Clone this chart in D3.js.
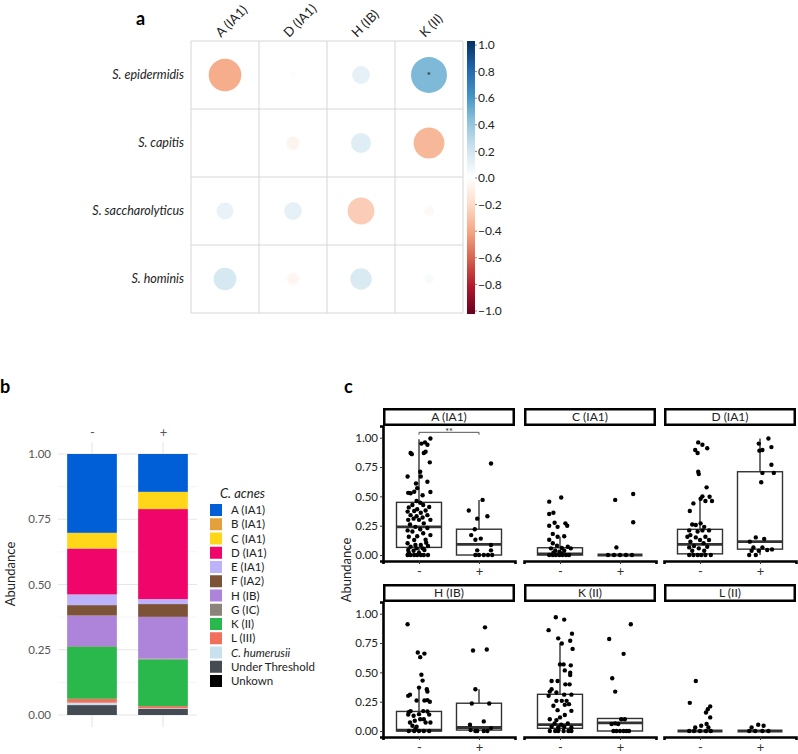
<!DOCTYPE html>
<html><head><meta charset="utf-8">
<script src="https://cdn.jsdelivr.net/npm/d3@7"></script>
<style>body{margin:0;background:#fff;} svg{display:block;font-family:Lato,"DejaVu Sans",sans-serif;}</style>
</head><body><svg id="chart" width="798" height="754"></svg>
<script>
// ---------- DATA ----------
// Panel a: correlations
const corrRows = ["S. epidermidis","S. capitis","S. saccharolyticus","S. hominis"];
const corrCols = ["A (IA1)","D (IA1)","H (IB)","K (II)"];
const corrValues = [
  [-0.37, 0.015, 0.11, 0.45],
  [0.006, -0.06, 0.14, -0.33],
  [0.10, 0.11, -0.25, -0.035],
  [0.18, -0.05, 0.16, 0.03]
];
const corrSig = [["","","","*"],["","","",""],["","","",""],["","","",""]];
const colorbarTicks = [1.0,0.8,0.6,0.4,0.2,0.0,-0.2,-0.4,-0.6,-0.8,-1.0];

// Panel b: stacked composition
const compGroups = ["-","+"];
const strainNames = ["A (IA1)","B (IA1)","C (IA1)","D (IA1)","E (IA1)","F (IA2)","H (IB)","G (IC)","K (II)","L (III)","C. humerusii","Under Threshold","Unkown"];
const strainColors = ["#005fd7","#e3a03d","#ffd718","#f0066b","#bdb3fb","#7c5337","#ae83da","#8c837a","#2ab84c","#f26f5c","#c9e1ef","#454b53","#000000"];
const compNeg = [0.302,0,0.060,0.176,0.041,0.040,0.117,0.003,0.199,0.015,0.009,0.038,0];
const compPos = [0.145,0,0.066,0.345,0.019,0.049,0.160,0.003,0.179,0.008,0.002,0.024,0];
const compTicks = [0,0.25,0.5,0.75,1];

// Panel c: boxplots  [lower whisker, q1, median, q3, upper whisker]
const facetNames = ["A (IA1)","C (IA1)","D (IA1)","H (IB)","K (II)","L (II)"];
const boxGroups = ["-","+"];
const boxNeg = [[0,0.065,0.24,0.449,0.986],[0,0,0.01,0.062,0.156],[0,0.01,0.09,0.219,0.47],[0,0,0.008,0.167,0.38],[0,0.023,0.054,0.313,0.75],[0,0,0,0,0]];
const boxPos = [[0,0,0.09,0.22,0.47],[0,0,0,0,0],[0,0.05,0.114,0.71,0.994],[0,0.008,0.03,0.237,0.356],[0,0,0.07,0.107,0.107],[0,0,0,0,0]];
const abundTicks = [0,0.25,0.5,0.75,1];
// jittered points: [jitter (category units), abundance]
const ptsANeg = [[0.19,0.994],[0.10,0.96],[0.04,0.95],[0.14,0.94],[-0.14,0.87],[-0.12,0.86],[0.08,0.87],[0.11,0.88],[0.18,0.79],[-0.19,0.67],[0.02,0.71],[-0.05,0.61],[0.14,0.625],[0.03,0.67],[-0.18,0.53],[-0.14,0.526],[-0.08,0.54],[0.06,0.51],[0.19,0.537],[-0.03,0.57],[-0.04,0.46],[0.02,0.446],[-0.11,0.426],[0.07,0.426],[-0.17,0.406],[0.17,0.41],[-0.03,0.39],[-0.19,0.37],[-0.08,0.375],[0.03,0.36],[0.11,0.38],[-0.14,0.34],[-0.04,0.33],[0.14,0.34],[0.06,0.32],[-0.18,0.30],[-0.09,0.31],[0,0.30],[0.19,0.30],[-0.15,0.26],[0.08,0.27],[-0.06,0.24],[-0.19,0.21],[0.02,0.22],[0.14,0.23],[-0.11,0.20],[0.07,0.185],[-0.17,0.156],[-0.03,0.16],[0.19,0.17],[-0.08,0.128],[0.11,0.13],[-0.19,0.10],[0.03,0.085],[-0.14,0.07],[0.15,0.077],[-0.04,0.057],[0.06,0.057],[-0.18,0.043],[-0.09,0.037],[0.09,0.043],[0,0.02],[-0.17,0.02],[-0.06,0.085],[0.12,0.105],[-0.19,0],[-0.14,0],[-0.08,0],[-0.03,0],[0.03,0],[0.08,0],[0.15,0]];
const ptsAPos = [[0.2,0.78],[0.06,0.47],[-0.17,0.38],[0.14,0.33],[-0.03,0.31],[-0.07,0.22],[-0.13,0.17],[0.03,0.14],[-0.06,0.13],[-0.03,0.04],[0.2,0.085],[0.2,0.04],[-0.06,0],[0,0],[0.08,0],[0.15,0],[0.22,0]];
const ptsCNeg = [[-0.18,0.455],[0.02,0.49],[-0.11,0.36],[-0.18,0.35],[-0.09,0.275],[0.09,0.27],[-0.18,0.25],[-0.04,0.24],[0.12,0.25],[-0.12,0.18],[-0.04,0.156],[0.07,0.16],[-0.18,0.13],[-0.12,0.10],[-0.05,0.08],[0.03,0.06],[0.13,0.07],[0.18,0.057],[-0.15,0.057],[-0.08,0.037],[-0.01,0.028],[0.07,0.037],[-0.18,0],[-0.12,0],[-0.07,0],[-0.01,0],[0.04,0],[0.1,0],[0.15,0],[-0.11,0.02],[0.02,0.014]];
const ptsCPos = [[-0.08,0.47],[0.22,0.52],[0.22,0.28],[-0.06,0.065],[-0.2,0],[-0.1,0],[0,0],[0.1,0],[0.2,0]];
const ptsDNeg = [[-0.03,0.96],[0.04,0.94],[0.12,0.91],[-0.08,0.895],[-0.04,0.87],[-0.03,0.71],[-0.02,0.69],[0.11,0.577],[0.04,0.50],[0.01,0.48],[0.16,0.497],[0.09,0.46],[0.2,0.46],[-0.11,0.44],[-0.17,0.375],[-0.13,0.26],[-0.07,0.256],[0.01,0.27],[0.07,0.24],[-0.18,0.21],[0.15,0.21],[-0.04,0.2],[0.04,0.21],[-0.16,0.17],[-0.21,0.156],[0.09,0.156],[-0.07,0.15],[0,0.128],[0.15,0.128],[-0.16,0.114],[0.06,0.1],[-0.1,0.077],[0.12,0.07],[-0.18,0.065],[-0.02,0.057],[-0.13,0.037],[0.07,0.037],[-0.18,0],[-0.11,0],[-0.04,0],[0.02,0],[0.09,0],[0.18,0]];
const ptsDPos = [[0.14,0.994],[-0.02,0.95],[0.19,0.92],[-0.01,0.89],[0.04,0.895],[0.19,0.77],[0.23,0.70],[0.04,0.70],[0.02,0.62],[-0.07,0.15],[0.07,0.136],[-0.17,0.114],[-0.11,0.065],[0.04,0.065],[0.2,0.048],[-0.02,0.037],[-0.18,0],[-0.07,0],[0.12,0.043],[-0.14,0.037]];
const ptsHNeg = [[-0.19,0.91],[-0.02,0.67],[0.09,0.66],[0.02,0.63],[0.04,0.48],[0.06,0.43],[0,0.37],[-0.15,0.31],[-0.18,0.30],[0.13,0.356],[0.14,0.336],[-0.04,0.26],[0.09,0.26],[0.14,0.263],[0.18,0.25],[0.07,0.17],[0.14,0.167],[-0.17,0.16],[-0.14,0.17],[-0.09,0.13],[0,0.144],[-0.18,0.14],[0.17,0.14],[0.08,0.10],[-0.15,0.073],[-0.07,0.088],[0.02,0.10],[0.11,0.073],[0.19,0.073],[-0.11,0.045],[-0.04,0.037],[-0.06,0.017],[-0.17,0],[-0.08,0],[0,0],[0.08,0],[0.17,0]];
const ptsHPos = [[0.1,0.884],[-0.1,0.686],[0.13,0.695],[-0.06,0.356],[-0.12,0.234],[0.17,0.234],[0.08,0.082],[-0.15,0.054],[-0.14,0.008],[-0.06,0],[-0.03,0],[0.14,0],[0.2,0.025],[0.08,0]];
const ptsKNeg = [[-0.07,0.97],[0.07,0.95],[-0.19,0.86],[0.2,0.83],[-0.03,0.79],[0.17,0.77],[0.03,0.746],[0.21,0.70],[0,0.568],[0.06,0.568],[0.18,0.56],[0.08,0.517],[0.17,0.497],[0.17,0.477],[-0.14,0.427],[-0.04,0.427],[0.09,0.398],[0.16,0.398],[-0.14,0.356],[-0.17,0.336],[-0.06,0.328],[-0.19,0.30],[0.07,0.31],[0.19,0.31],[-0.06,0.257],[0.03,0.257],[0.11,0.257],[0.15,0.229],[-0.11,0.215],[0.08,0.223],[-0.04,0.178],[0.19,0.172],[0.08,0.136],[-0.17,0.10],[-0.06,0.093],[0,0.116],[-0.09,0.065],[0.13,0.065],[0.02,0.054],[-0.14,0.037],[-0.03,0.031],[0.07,0.037],[0.19,0.031],[-0.17,0],[-0.08,0],[-0.03,0],[0.06,0],[0.14,0],[0.19,0]];
const ptsKPos = [[0.18,0.91],[-0.18,0.785],[0.06,0.658],[-0.13,0.45],[-0.08,0.336],[0.02,0.10],[0.08,0.10],[-0.08,0.065],[-0.03,0.06],[-0.14,0.06],[-0.11,0],[-0.06,0],[0,0],[0.06,0],[0.11,0],[0.15,0]];
const ptsLNeg = [[-0.07,0.427],[-0.17,0.24],[0.17,0.21],[0.13,0.186],[0.1,0.158],[0.17,0.116],[0.11,0.06],[0.02,0.045],[-0.08,0.03],[0.14,0.03],[-0.18,0],[-0.1,0],[0,0],[0.1,0],[0.18,0]];
const ptsLPos = [[-0.03,0.054],[-0.14,0.03],[0.06,0.045],[-0.18,0],[-0.08,0],[0.04,0],[0.14,0]];
const pointsNeg = [ptsANeg,ptsCNeg,ptsDNeg,ptsHNeg,ptsKNeg,ptsLNeg];
const pointsPos = [ptsAPos,ptsCPos,ptsDPos,ptsHPos,ptsKPos,ptsLPos];
const sigLabel = "**";

// ---------- DRAW ----------
const svg = d3.select("#chart");
svg.append("rect").attr("width",798).attr("height",754).attr("fill","#fff");

// panel letters
svg.append("text").attr("x",136).attr("y",25).attr("font-size",18).attr("font-weight","bold").text("a");
svg.append("text").attr("x",0).attr("y",393).attr("font-size",18).attr("font-weight","bold").text("b");
svg.append("text").attr("x",344).attr("y",393).attr("font-size",18).attr("font-weight","bold").text("c");

// ===== Panel a =====
const rdbu = ["#67001F","#B2182B","#D6604D","#F4A582","#FDDBC7","#FFFFFF","#D1E5F0","#92C5DE","#4393C3","#2166AC","#053061"];
const corrColor = d3.scaleLinear().domain(d3.range(11).map(i=>-1+i*0.2)).range(rdbu).clamp(true);
const aX = d3.scaleBand().domain(corrCols).range([191,463]);
const aY = d3.scaleBand().domain(corrRows).range([41,313]);
const rScale = d3.scaleSqrt().domain([0,1]).range([0,26.8]);
const ga = svg.append("g");
const xEdges = corrCols.map(c=>aX(c)).concat([aX.range()[1]]);
const yEdges = corrRows.map(r=>aY(r)).concat([aY.range()[1]]);
ga.selectAll("line.v").data(xEdges).join("line").attr("x1",d=>d).attr("x2",d=>d)
  .attr("y1",aY.range()[0]).attr("y2",aY.range()[1]).attr("stroke","#d6d6d6").attr("stroke-width",1);
ga.selectAll("line.h").data(yEdges).join("line").attr("y1",d=>d).attr("y2",d=>d)
  .attr("x1",aX.range()[0]).attr("x2",aX.range()[1]).attr("stroke","#d6d6d6").attr("stroke-width",1);
const cells = [];
corrRows.forEach((r,i)=>corrCols.forEach((c,j)=>cells.push({r,c,v:corrValues[i][j],s:corrSig[i][j]})));
ga.selectAll("circle").data(cells).join("circle")
  .attr("cx",d=>aX(d.c)+aX.bandwidth()/2).attr("cy",d=>aY(d.r)+aY.bandwidth()/2)
  .attr("r",d=>rScale(Math.abs(d.v))).attr("fill",d=>corrColor(d.v));
ga.selectAll("text.sig").data(cells.filter(d=>d.s)).join("text")
  .attr("x",d=>aX(d.c)+aX.bandwidth()/2).attr("y",d=>aY(d.r)+aY.bandwidth()/2+4)
  .attr("text-anchor","middle").attr("font-size",10).attr("fill","#111").text(d=>d.s);
ga.selectAll("text.col").data(corrCols).join("text")
  .attr("transform",d=>`translate(${aX(d)+aX.bandwidth()/2-4},38) rotate(-45)`)
  .attr("font-size",13).attr("fill","#222").text(d=>d);
ga.selectAll("text.row").data(corrRows).join("text")
  .attr("x",184).attr("y",d=>aY(d)+aY.bandwidth()/2).attr("dy","0.35em")
  .attr("text-anchor","end").attr("font-size",12.5).attr("font-style","italic").attr("fill","#222").text(d=>d);
// colorbar
const cbY = d3.scaleLinear().domain([-1,1]).range([311,45]);
const defs = svg.append("defs");
const grad = defs.append("linearGradient").attr("id","cbgrad").attr("x1",0).attr("x2",0).attr("y1",1).attr("y2",0);
rdbu.forEach((c,i)=>grad.append("stop").attr("offset",(i/10*100)+"%").attr("stop-color",c));
ga.append("rect").attr("x",467).attr("y",cbY(1)-4).attr("width",8).attr("height",cbY(-1)-cbY(1)+7).attr("fill","url(#cbgrad)");
ga.selectAll("line.cbt").data(colorbarTicks).join("line")
  .attr("x1",475).attr("x2",477).attr("y1",d=>cbY(d)).attr("y2",d=>cbY(d)).attr("stroke","#666").attr("stroke-width",0.8);
ga.selectAll("text.cb").data(colorbarTicks).join("text")
  .attr("x",478).attr("y",d=>cbY(d)).attr("dy","0.35em").attr("font-size",12).attr("fill","#222")
  .text(d=>d3.format(".1f")(d));

// ===== Panel b =====
const gb = svg.append("g");
const bY = d3.scaleLinear().domain([-0.046,1.046]).range([727,442]);
const bX = d3.scalePoint().domain(compGroups).range([58,197]).padding(0.479);
const minorTicks = [0.125,0.375,0.625,0.875];
gb.selectAll("line.minor").data(minorTicks).join("line").attr("x1",58).attr("x2",197)
  .attr("y1",d=>bY(d)).attr("y2",d=>bY(d)).attr("stroke","#f2f2f2").attr("stroke-width",0.8);
gb.selectAll("line.major").data(compTicks).join("line").attr("x1",58).attr("x2",197)
  .attr("y1",d=>bY(d)).attr("y2",d=>bY(d)).attr("stroke","#e6e6e6").attr("stroke-width",1.1);
gb.selectAll("line.vg").data(compGroups).join("line").attr("x1",d=>bX(d)).attr("x2",d=>bX(d))
  .attr("y1",bY.range()[1]).attr("y2",bY.range()[0]).attr("stroke","#e6e6e6").attr("stroke-width",1.1);
const compTable = compGroups.map((g,gi)=>{const o={group:g};strainNames.forEach((s,si)=>o[s]=(gi===0?compNeg:compPos)[si]);return o;});
const stackKeys = strainNames.slice().reverse();
const series = d3.stack().keys(stackKeys)(compTable);
const barW = bX.step()*0.7;
series.forEach(sr=>{
  const col = strainColors[strainNames.indexOf(sr.key)];
  gb.selectAll(null).data(sr.filter(d=>d[1]-d[0]>0)).join("rect")
    .attr("x",d=>bX(d.data.group)-barW/2).attr("width",barW)
    .attr("y",d=>bY(d[1])).attr("height",d=>bY(d[0])-bY(d[1])).attr("fill",col);
});
const bAxis = gb.append("g").attr("transform","translate(51,0)")
  .call(d3.axisLeft(bY).tickValues(compTicks).tickFormat(d3.format(".2f")).tickSize(0));
bAxis.select(".domain").remove();
bAxis.selectAll("text").attr("font-size",11.5).attr("fill","#555").attr("font-family","Lato,sans-serif").attr("x",0);
const bTop = gb.append("g").attr("transform","translate(0,437)")
  .call(d3.axisTop(bX).tickSize(0));
bTop.select(".domain").remove();
bTop.selectAll("text").attr("font-size",13).attr("fill","#555").attr("font-family","Lato,sans-serif").attr("y",0);
gb.append("text").attr("transform","translate(15,574) rotate(-90)").attr("text-anchor","middle")
  .attr("font-size",13).attr("fill","#222").text("Abundance");
// legend
const lg = gb.append("g");
lg.append("text").attr("x",220).attr("y",498).attr("font-size",13).attr("font-style","italic").attr("fill","#222").text("C. acnes");
strainNames.forEach((s,i)=>{
  const cy = 510 + i*14.25;
  lg.append("rect").attr("x",210).attr("y",cy-6).attr("width",12).attr("height",12).attr("fill",strainColors[i]);
  lg.append("text").attr("x",231).attr("y",cy).attr("dy","0.35em").attr("font-size",11.5).attr("fill","#222")
    .attr("font-style", s==="C. humerusii"?"italic":"normal").text(s);
});

// ===== Panel c =====
const gc = svg.append("g");
const colX0 = [383,524,664];
const rowStripTop = [408,584];
const stripH = 18, panelW = 132, panelH = 135;
facetNames.forEach((name,fi)=>{
  const col = fi%3, row = Math.floor(fi/3);
  const x0 = colX0[col], st = rowStripTop[row];
  const pTop = st+stripH, pBot = pTop+panelH;
  const x = d3.scalePoint().domain(boxGroups).range([x0,x0+panelW]).padding(0.6);
  const y = d3.scaleLinear().domain([-0.051,1.10]).range([pBot,pTop]);
  const g = gc.append("g");
  // strip
  g.append("rect").attr("x",x0+1.25).attr("y",st+1.25).attr("width",panelW-2.5).attr("height",stripH-2.5)
    .attr("fill","#fff").attr("stroke","#000").attr("stroke-width",2.5);
  g.append("text").attr("x",x0+panelW/2).attr("y",st+stripH/2).attr("dy","0.36em").attr("text-anchor","middle")
    .attr("font-size",12).attr("fill","#222").text(name);
  // boxes
  const bw = x.step()*0.75;
  [boxNeg[fi],boxPos[fi]].forEach((b,gi)=>{
    const cx = x(boxGroups[gi]);
    g.append("line").attr("x1",cx).attr("x2",cx).attr("y1",y(b[3])).attr("y2",y(b[4])).attr("stroke","#333").attr("stroke-width",1.4);
    g.append("line").attr("x1",cx).attr("x2",cx).attr("y1",y(b[1])).attr("y2",y(b[0])).attr("stroke","#333").attr("stroke-width",1.4);
    g.append("rect").attr("x",cx-bw/2).attr("y",y(b[3])).attr("width",bw).attr("height",Math.max(0,y(b[1])-y(b[3])))
      .attr("fill","none").attr("stroke","#333").attr("stroke-width",1.4);
    g.append("line").attr("x1",cx-bw/2).attr("x2",cx+bw/2).attr("y1",y(b[2])).attr("y2",y(b[2])).attr("stroke","#333").attr("stroke-width",2.8);
  });
  // points
  [pointsNeg[fi],pointsPos[fi]].forEach((pts,gi)=>{
    const cx = x(boxGroups[gi]);
    g.selectAll(null).data(pts).join("circle").attr("cx",d=>cx+d[0]*x.step()).attr("cy",d=>y(d[1]))
      .attr("r",2.2).attr("fill","#000");
  });
  // x axis
  const xa = g.append("g").attr("transform",`translate(0,${pBot})`).call(d3.axisBottom(x).tickSizeOuter(0).tickSize(3));
  xa.select(".domain").attr("stroke","#000").attr("stroke-width",2.6);
  xa.selectAll(".tick line").attr("stroke","#333");
  xa.selectAll("text").attr("font-size",13).attr("fill","#333").attr("font-family","Lato,sans-serif").attr("y",6);
  if(col===0){
    const ya = g.append("g").attr("transform",`translate(${x0},0)`)
      .call(d3.axisLeft(y).tickValues(abundTicks).tickFormat(d3.format(".2f")).tickSizeOuter(0).tickSize(3));
    ya.select(".domain").attr("stroke","#000").attr("stroke-width",2.6);
    ya.selectAll(".tick line").attr("stroke","#333");
    ya.selectAll("text").attr("font-size",11.5).attr("fill","#222").attr("font-family","Lato,sans-serif").attr("x",-5);
  }
  if(fi===0){
    const yb = y(1.046), yt = y(1.025);
    const xl = x(boxGroups[0]), xr = x(boxGroups[1]);
    g.append("path").attr("d",`M${xl},${yt}V${yb}H${xr}V${yt}`).attr("fill","none").attr("stroke","#444").attr("stroke-width",0.9);
    g.append("text").attr("x",(xl+xr)/2).attr("y",yb+2.5).attr("text-anchor","middle").attr("font-size",9).attr("fill","#222").text(sigLabel);
  }
});
gc.append("text").attr("transform","translate(351,570) rotate(-90)").attr("text-anchor","middle")
  .attr("font-size",13).attr("fill","#222").text("Abundance");
</script></body></html>
